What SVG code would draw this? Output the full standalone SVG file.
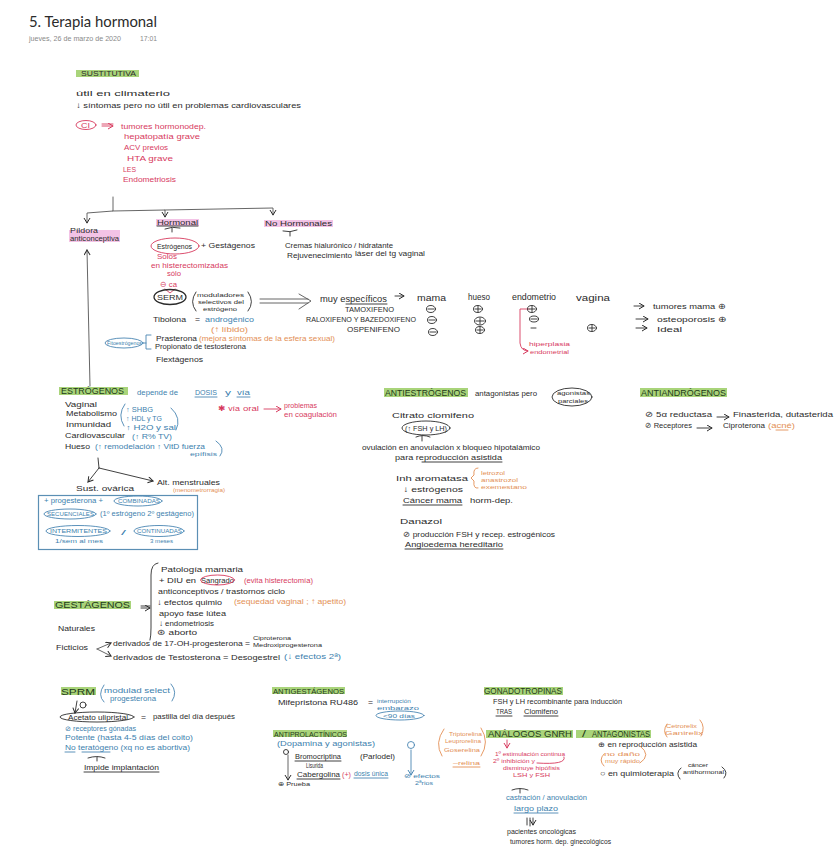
<svg xmlns="http://www.w3.org/2000/svg" width="837" height="848" viewBox="0 0 837 848">
<style>
text{font-family:"Liberation Sans",Arial,sans-serif;font-size:8px;fill:#2b2b2b}
.r{fill:#d73a5e}.b{fill:#3d7fae}.o{fill:#e38f55}.h{font-size:9px;fill:#1f3a1a}.s{font-size:6px}.t{font-size:7px}
.gh{fill:#a9d47a}.ph{fill:#f3c3e6}
.lk,.lr,.lb,.lo,.lg{fill:none;stroke-linecap:round;stroke-linejoin:round;stroke-width:.9}
.lk{stroke:#2b2b2b}.lr{stroke:#d73a5e}.lb{stroke:#4a86b2}.lo{stroke:#e38f55}.lg{stroke:#555}
</style>
<defs>
<marker id="ak" markerWidth="8" markerHeight="8" refX="6" refY="3.5" orient="auto" markerUnits="userSpaceOnUse"><path d="M1 .5L6 3.5L1 6.5" fill="none" stroke="#2b2b2b" stroke-width="1"/></marker>
<marker id="ar" markerWidth="8" markerHeight="8" refX="6" refY="3.5" orient="auto" markerUnits="userSpaceOnUse"><path d="M1 .5L6 3.5L1 6.5" fill="none" stroke="#d73a5e" stroke-width="1"/></marker>
<marker id="ab" markerWidth="8" markerHeight="8" refX="6" refY="3.5" orient="auto" markerUnits="userSpaceOnUse"><path d="M1 .5L6 3.5L1 6.5" fill="none" stroke="#4a86b2" stroke-width="1"/></marker>
</defs>
<rect width="837" height="848" fill="#fff"/>

<g id="title">
<text x="29" y="27" textLength="128" lengthAdjust="spacingAndGlyphs" style="font-size:16px;font-family:Lato,'Open Sans',sans-serif">5. Terapia hormonal</text>
<text x="29" y="41" textLength="92" lengthAdjust="spacingAndGlyphs" style="font-size:7.5px;fill:#8a8a8a">jueves, 26 de marzo de 2020</text>
<text x="140" y="41" textLength="17" lengthAdjust="spacingAndGlyphs" style="font-size:7.5px;fill:#8a8a8a">17:01</text>
</g>

<g id="connectors">
<path class="lg" marker-end="url(#ak)" d="M113 197V211L87 213V223"/>
<path class="lg" marker-end="url(#ak)" d="M113 211L165 210V217"/>
<path class="lg" marker-end="url(#ak)" d="M165 210L273 208V215"/>
<path class="lg" marker-end="url(#ak)" d="M90 386L87 250"/>
<path class="lr" marker-end="url(#ar)" d="M102 124H113M102 126H113"/>
<path class="lg" d="M260 299H308M260 303H308M299 294L311 301L299 309"/>
<path class="lk" marker-end="url(#ak)" d="M395 296H404"/>
<path class="lk" marker-end="url(#ak)" d="M634 306H644"/>
<path class="lk" marker-end="url(#ak)" d="M636 319H648"/>
<path class="lk" marker-end="url(#ak)" d="M636 328H647"/>
<path class="lr" marker-end="url(#ar)" d="M529 309H520V343Q521 351 528 351"/>
<path class="lk" d="M98 458L99 468"/>
<path class="lk" marker-end="url(#ak)" d="M99 468L88 482"/>
<path class="lk" marker-end="url(#ak)" d="M99 468L153 481"/>
<path class="lk" marker-end="url(#ak)" d="M141 606H150M141 608H150"/>
<path class="lk" d="M158 563Q151 564 151 575V628Q151 636 150 640"/>
<path class="lg" marker-end="url(#ak)" d="M97 649L111 643"/>
<path class="lg" marker-end="url(#ak)" d="M97 649L111 656"/>
<path class="lk" marker-end="url(#ak)" d="M77 701L75 713"/>
<path class="lg" marker-end="url(#ak)" d="M288 755V780"/>
<path class="lb" marker-end="url(#ab)" d="M411 750V775"/>
<path class="lr" marker-end="url(#ar)" d="M507 740V748"/>
<path class="lk" marker-end="url(#ak)" d="M530 818V826M527 818V825M533 818V825"/>
<path class="lr" marker-end="url(#ar)" d="M264 409H281"/>
<path class="lk" marker-end="url(#ak)" d="M717 417H729"/>
<path class="lk" marker-end="url(#ak)" d="M697 428H712"/>
<path class="lk" d="M165 229Q172 226 180 228M172 228V232M283 231Q290 233 297 230M290 232V236M416 437Q423 434 430 437M422 436V441M88 758Q97 755 105 758M97 757V761M512 790Q520 787 528 790M520 789V793"/>
</g>

<g id="sustitutiva">
<rect class="gh" x="76" y="70" width="63" height="7"/>
<text x="81" y="76" textLength="55" lengthAdjust="spacingAndGlyphs">SUSTITUTIVA</text>
<text x="76" y="96" textLength="94" lengthAdjust="spacingAndGlyphs">útil en climaterio</text>
<text x="76" y="108" textLength="225" lengthAdjust="spacingAndGlyphs">↓ síntomas pero no útil en problemas cardiovasculares</text>
<ellipse class="lr" cx="86" cy="125" rx="10" ry="4.5"/>
<text class="r" x="81" y="128" textLength="9" lengthAdjust="spacingAndGlyphs">CI</text>
<text class="r" x="121" y="129" textLength="85" lengthAdjust="spacingAndGlyphs">tumores hormonodep.</text>
<text class="r" x="124" y="139" textLength="76" lengthAdjust="spacingAndGlyphs">hepatopatía grave</text>
<text class="r" x="124" y="150" textLength="44" lengthAdjust="spacingAndGlyphs">ACV previos</text>
<text class="r" x="127" y="161" textLength="46" lengthAdjust="spacingAndGlyphs">HTA grave</text>
<text class="r" x="123" y="172" textLength="13" lengthAdjust="spacingAndGlyphs">LES</text>
<text class="r" x="123" y="182" textLength="53" lengthAdjust="spacingAndGlyphs">Endometriosis</text>
</g>

<g id="pildora">
<rect class="ph" x="69" y="230" width="51" height="12"/>
<text class="t" x="70" y="233" textLength="28" lengthAdjust="spacingAndGlyphs">Píldora</text>
<text class="t" x="70" y="241" textLength="49" lengthAdjust="spacingAndGlyphs">anticonceptiva</text>
</g>

<g id="hormonal">
<rect class="ph" x="156" y="219" width="43" height="7"/>
<text x="157" y="225" textLength="41" lengthAdjust="spacingAndGlyphs">Hormonal</text>
<path class="lk" d="M157 226H198"/>
<ellipse class="lr" cx="175" cy="246" rx="24" ry="8"/>
<text x="157" y="249" textLength="35" lengthAdjust="spacingAndGlyphs">Estrógenos</text>
<text x="201" y="248" textLength="54" lengthAdjust="spacingAndGlyphs">+ Gestágenos</text>
<text class="r" x="157" y="259" textLength="20" lengthAdjust="spacingAndGlyphs">Solos</text>
<text class="r" x="151" y="268" textLength="77" lengthAdjust="spacingAndGlyphs">en histerectomizadas</text>
<text class="r" x="167" y="276" textLength="14" lengthAdjust="spacingAndGlyphs">sólo</text>
<text class="r" x="160" y="287" textLength="17" lengthAdjust="spacingAndGlyphs">⊖ ca</text>
<path class="lr" d="M165 289L170 293L175 289"/>
<ellipse class="lk" style="stroke-width:1.3" cx="170" cy="297" rx="16" ry="7.5"/>
<text x="157" y="300" textLength="26" lengthAdjust="spacingAndGlyphs">SERM</text>
<path class="lk" d="M196 292Q189 302 196 311M248 292Q255 302 248 311"/>
<text class="s" x="197" y="297" textLength="47" lengthAdjust="spacingAndGlyphs">moduladores</text>
<text class="s" x="198" y="304" textLength="46" lengthAdjust="spacingAndGlyphs">selectivos del</text>
<text class="s" x="203" y="311" textLength="34" lengthAdjust="spacingAndGlyphs">estrógeno</text>
<text x="153" y="322" textLength="33" lengthAdjust="spacingAndGlyphs">Tibolona</text>
<text x="195" y="322" textLength="5" lengthAdjust="spacingAndGlyphs">=</text>
<text class="b" x="205" y="322" textLength="49" lengthAdjust="spacingAndGlyphs">androgénico</text>
<text class="o" x="211" y="332" textLength="37" lengthAdjust="spacingAndGlyphs">(↑ líbido)</text>
<ellipse class="lb" cx="124" cy="343" rx="19" ry="5"/>
<text class="b s" x="107" y="345" textLength="35" lengthAdjust="spacingAndGlyphs">Fitoestrógenos</text>
<path class="lb" d="M151 335H146V349H151M143 343H146"/>
<text class="t" x="156" y="341" textLength="41" lengthAdjust="spacingAndGlyphs">Prasterona</text>
<text class="o t" x="199" y="341" textLength="136" lengthAdjust="spacingAndGlyphs">(mejora síntomas de la esfera sexual)</text>
<text class="t" x="155" y="349" textLength="91" lengthAdjust="spacingAndGlyphs">Propionato de testosterona</text>
<text x="156" y="362" textLength="47" lengthAdjust="spacingAndGlyphs">Flextágenos</text>
</g>

<g id="no-hormonales">
<rect class="ph" x="264" y="220" width="69" height="7"/>
<text x="265" y="226" textLength="67" lengthAdjust="spacingAndGlyphs">No Hormonales</text>
<text x="285" y="248" textLength="108" lengthAdjust="spacingAndGlyphs">Cremas hialurónico / hidratante</text>
<text x="287" y="258" textLength="65" lengthAdjust="spacingAndGlyphs">Rejuvenecimiento</text>
<text x="355" y="256" textLength="70" lengthAdjust="spacingAndGlyphs">láser del tg vaginal</text>
</g>

<g id="serm-tabla">
<text x="320" y="302" textLength="67" lengthAdjust="spacingAndGlyphs" style="font-size:9px">muy específicos</text>
<path class="lk" d="M346 304H387"/>
<text x="417" y="301" textLength="29" lengthAdjust="spacingAndGlyphs" style="font-size:9px">mama</text>
<text x="468" y="300" textLength="22" lengthAdjust="spacingAndGlyphs" style="font-size:9px">hueso</text>
<text x="512" y="300" textLength="44" lengthAdjust="spacingAndGlyphs" style="font-size:9px">endometrio</text>
<text x="576" y="301" textLength="34" lengthAdjust="spacingAndGlyphs" style="font-size:9px">vagina</text>
<text class="t" x="345" y="312" textLength="49" lengthAdjust="spacingAndGlyphs">TAMOXIFENO</text>
<text class="t" x="306" y="322" textLength="110" lengthAdjust="spacingAndGlyphs">RALOXIFENO Y BAZEDOXIFENO</text>
<text class="t" x="347" y="332" textLength="53" lengthAdjust="spacingAndGlyphs">OSPENIFENO</text>
<g class="lk">
<ellipse cx="431" cy="309" rx="4.5" ry="3.5"/><path d="M428 309H434"/>
<ellipse cx="432" cy="320" rx="4.5" ry="3.5"/><path d="M429 320H435"/>
<ellipse cx="433" cy="332" rx="4.5" ry="3.5"/><path d="M430 332H436"/>
<ellipse cx="478" cy="309" rx="4.5" ry="3.5"/><path d="M475 309H481M478 306V312"/>
<ellipse cx="480" cy="321" rx="5.5" ry="4"/><path d="M476 321H484M480 318V324"/>
<ellipse cx="480" cy="330" rx="4.5" ry="3.5"/><path d="M477 330H483M480 327V333"/>
<ellipse cx="532" cy="309" rx="4.5" ry="3.5"/><path d="M529 309H535M532 306V312"/>
<ellipse cx="534" cy="319" rx="4.5" ry="3"/><path d="M531 319H537"/>
<path d="M531 328H536"/>
<ellipse cx="592" cy="328" rx="4.5" ry="3.5"/><path d="M589 328H595M592 325V331"/>
</g>
<text class="r s" x="529" y="346" textLength="41" lengthAdjust="spacingAndGlyphs">hiperplasia</text>
<text class="r s" x="530" y="354" textLength="39" lengthAdjust="spacingAndGlyphs">endometrial</text>
<text x="653" y="309" textLength="73" lengthAdjust="spacingAndGlyphs">tumores mama ⊕</text>
<text x="657" y="322" textLength="70" lengthAdjust="spacingAndGlyphs">osteoporosis ⊕</text>
<text x="657" y="332" textLength="25" lengthAdjust="spacingAndGlyphs">Ideal</text>
</g>

<g id="estrogenos">
<rect class="gh" x="59" y="387" width="69" height="8"/>
<text class="h" x="61" y="394" textLength="63" lengthAdjust="spacingAndGlyphs">ESTRÓGENOS</text>
<text class="b" x="137" y="395" textLength="41" lengthAdjust="spacingAndGlyphs">depende de</text>
<text class="b" x="195" y="395" textLength="22" lengthAdjust="spacingAndGlyphs">DOSIS</text>
<text class="b" x="225" y="395" textLength="6" lengthAdjust="spacingAndGlyphs">y</text>
<text class="b" x="237" y="395" textLength="13" lengthAdjust="spacingAndGlyphs">vía</text>
<path class="lb" d="M195 397H217M237 397H250"/>
<text class="r" x="218" y="411" textLength="22" lengthAdjust="spacingAndGlyphs">✱ vía</text>
<text class="r" x="243" y="411" textLength="16" lengthAdjust="spacingAndGlyphs">oral</text>
<text class="r" x="284" y="408" textLength="33" lengthAdjust="spacingAndGlyphs">problemas</text>
<text class="r" x="284" y="417" textLength="53" lengthAdjust="spacingAndGlyphs">en coagulación</text>
<text x="65" y="407" textLength="32" lengthAdjust="spacingAndGlyphs">Vaginal</text>
<text x="66" y="416" textLength="51" lengthAdjust="spacingAndGlyphs">Metabolismo</text>
<text x="66" y="427" textLength="45" lengthAdjust="spacingAndGlyphs">Inmunidad</text>
<text x="65" y="438" textLength="60" lengthAdjust="spacingAndGlyphs">Cardiovascular</text>
<text x="65" y="449" textLength="25" lengthAdjust="spacingAndGlyphs">Hueso</text>
<path class="lb" d="M125 404Q117 415 124 426M171 408Q182 418 176 430"/>
<text class="b t" x="126" y="412" textLength="27" lengthAdjust="spacingAndGlyphs">↑ SHBG</text>
<text class="b t" x="126" y="421" textLength="36" lengthAdjust="spacingAndGlyphs">↑ HDL y TG</text>
<text class="b t" x="126" y="430" textLength="50" lengthAdjust="spacingAndGlyphs">↑ H2O y sal</text>
<text class="b t" x="132" y="439" textLength="40" lengthAdjust="spacingAndGlyphs">(↑ R% TV)</text>
<text class="b t" x="95" y="449" textLength="110" lengthAdjust="spacingAndGlyphs">(↑ remodelación ↑ VitD fuerza</text>
<text class="b s" x="190" y="456" textLength="27" lengthAdjust="spacingAndGlyphs">epífisis</text>
<path class="lb" d="M216 441Q226 448 220 456"/>
<text x="76" y="491" textLength="58" lengthAdjust="spacingAndGlyphs">Sust. ovárica</text>
<text x="157" y="485" textLength="63" lengthAdjust="spacingAndGlyphs">Alt. menstruales</text>
<text class="o s" x="173" y="492" textLength="52" lengthAdjust="spacingAndGlyphs">(menometrorragia)</text>
<rect x="38.500" y="495.500" width="159" height="54" fill="none" stroke="#5b8fb4" stroke-width="1.200"/>
<text class="b t" x="44" y="503" textLength="59" lengthAdjust="spacingAndGlyphs">+ progesterona +</text>
<ellipse class="lb" cx="138" cy="501" rx="24" ry="5"/>
<text class="b s" x="118" y="503" textLength="42" lengthAdjust="spacingAndGlyphs">COMBINADAS</text>
<ellipse class="lb" cx="70" cy="514" rx="26" ry="5"/>
<text class="b s" x="47" y="516" textLength="47" lengthAdjust="spacingAndGlyphs">SECUENCIALES</text>
<text class="b t" x="100" y="516" textLength="94" lengthAdjust="spacingAndGlyphs">(1º estrógeno 2º gestágeno)</text>
<ellipse class="lb" cx="78" cy="531" rx="32" ry="5.500"/>
<text class="b s" x="50" y="533" textLength="57" lengthAdjust="spacingAndGlyphs">INTERMITENTES</text>
<text class="b" x="121" y="535" textLength="5" lengthAdjust="spacingAndGlyphs">/</text>
<ellipse class="lb" cx="159" cy="531" rx="25" ry="5.500"/>
<text class="b s" x="137" y="533" textLength="45" lengthAdjust="spacingAndGlyphs">CONTINUADAS</text>
<text class="b s" x="55" y="543" textLength="48" lengthAdjust="spacingAndGlyphs">1/sem al mes</text>
<text class="b s" x="150" y="543" textLength="23" lengthAdjust="spacingAndGlyphs">3 meses</text>
</g>

<g id="antiestrogenos">
<rect class="gh" x="384" y="388" width="84" height="9"/>
<text class="h" x="385" y="396" textLength="81" lengthAdjust="spacingAndGlyphs">ANTIESTRÓGENOS</text>
<text x="475" y="396" textLength="62" lengthAdjust="spacingAndGlyphs">antagonistas pero</text>
<ellipse class="lk" cx="572" cy="397" rx="20" ry="9"/>
<text class="s" x="557" y="395" textLength="33" lengthAdjust="spacingAndGlyphs">agonistas</text>
<text class="s" x="558" y="403" textLength="30" lengthAdjust="spacingAndGlyphs">parciales</text>
<text x="392" y="418" textLength="82" lengthAdjust="spacingAndGlyphs">Citrato clomifeno</text>
<ellipse class="lk" cx="426" cy="428" rx="24" ry="7"/>
<text class="t" x="405" y="431" textLength="42" lengthAdjust="spacingAndGlyphs">(↑ FSH y LH)</text>
<text x="362" y="450" textLength="178" lengthAdjust="spacingAndGlyphs">ovulación en anovulación x bloqueo hipotalámico</text>
<text x="395" y="460" textLength="107" lengthAdjust="spacingAndGlyphs">para reproducción asistida</text>
<path class="lk" d="M422 462H502"/>
<text x="396" y="481" textLength="72" lengthAdjust="spacingAndGlyphs">Inh aromatasa</text>
<path class="lo" d="M478 468Q473 468 474 475L471 478L474 481Q473 489 478 488"/>
<text class="o s" x="481" y="475" textLength="24" lengthAdjust="spacingAndGlyphs">letrozol</text>
<text class="o s" x="481" y="482" textLength="37" lengthAdjust="spacingAndGlyphs">anastrozol</text>
<text class="o s" x="481" y="489" textLength="46" lengthAdjust="spacingAndGlyphs">exemestano</text>
<text x="403" y="492" textLength="60" lengthAdjust="spacingAndGlyphs">↓ estrógenos</text>
<text x="403" y="503" textLength="59" lengthAdjust="spacingAndGlyphs">Cáncer mama</text>
<path class="lk" d="M403 505H462"/>
<text x="470" y="503" textLength="43" lengthAdjust="spacingAndGlyphs">horm-dep.</text>
<text x="400" y="524" textLength="42" lengthAdjust="spacingAndGlyphs">Danazol</text>
<text x="403" y="537" textLength="152" lengthAdjust="spacingAndGlyphs">⊘ producción FSH y recep. estrogénicos</text>
<text x="405" y="547" textLength="98" lengthAdjust="spacingAndGlyphs">Angioedema hereditario</text>
<path class="lk" d="M405 549H503"/>
</g>

<g id="antiandrogenos">
<rect class="gh" x="640" y="388" width="87" height="9"/>
<text class="h" x="641" y="396" textLength="85" lengthAdjust="spacingAndGlyphs">ANTIANDRÓGENOS</text>
<text x="645" y="417" textLength="67" lengthAdjust="spacingAndGlyphs">⊘ 5α reductasa</text>
<text x="733" y="417" textLength="100" lengthAdjust="spacingAndGlyphs">Finasterida, dutasterida</text>
<text x="645" y="428" textLength="47" lengthAdjust="spacingAndGlyphs">⊘ Receptores</text>
<text x="723" y="428" textLength="42" lengthAdjust="spacingAndGlyphs">Ciproterona</text>
<text class="o" x="768" y="428" textLength="27" lengthAdjust="spacingAndGlyphs">(acné)</text>
<path class="lo" d="M776 430H788"/>
</g>

<g id="gestagenos">
<rect class="gh" x="54" y="601" width="77" height="8"/>
<text class="h" x="55" y="608" textLength="75" lengthAdjust="spacingAndGlyphs">GESTÁGENOS</text>
<text x="161" y="572" textLength="82" lengthAdjust="spacingAndGlyphs">Patología mamaria</text>
<text x="159" y="583" textLength="37" lengthAdjust="spacingAndGlyphs">+ DIU en</text>
<text x="201" y="583" textLength="33" lengthAdjust="spacingAndGlyphs">Sangrado</text>
<ellipse class="lr" cx="217.500" cy="580" rx="17" ry="5"/>
<text class="r" x="244" y="583" textLength="69" lengthAdjust="spacingAndGlyphs">(evita histerectomía)</text>
<text x="158" y="594" textLength="127" lengthAdjust="spacingAndGlyphs">anticonceptivos / trastornos ciclo</text>
<text x="157" y="605" textLength="65" lengthAdjust="spacingAndGlyphs">↓ efectos quimio</text>
<text class="o" x="234" y="604" textLength="112" lengthAdjust="spacingAndGlyphs">(sequedad vaginal ; ↑ apetito)</text>
<text x="159" y="616" textLength="67" lengthAdjust="spacingAndGlyphs">apoyo fase lútea</text>
<text x="159" y="626" textLength="55" lengthAdjust="spacingAndGlyphs">↓ endometriosis</text>
<text x="157" y="635" textLength="40" lengthAdjust="spacingAndGlyphs">⊛ aborto</text>
<text x="58" y="631" textLength="37" lengthAdjust="spacingAndGlyphs">Naturales</text>
<text x="56" y="650" textLength="32" lengthAdjust="spacingAndGlyphs">Ficticios</text>
<text x="113" y="646" textLength="137" lengthAdjust="spacingAndGlyphs">derivados de 17-OH-progesterona =</text>
<text class="s" x="253" y="640" textLength="38" lengthAdjust="spacingAndGlyphs">Ciproterona</text>
<text class="s" x="253" y="647" textLength="69" lengthAdjust="spacingAndGlyphs">Medroxiprogesterona</text>
<text x="113" y="660" textLength="167" lengthAdjust="spacingAndGlyphs">derivados de Testosterona = Desogestrel</text>
<text class="b" x="284" y="659" textLength="57" lengthAdjust="spacingAndGlyphs">(↓ efectos 2ª)</text>
</g>

<g id="sprm">
<rect class="gh" x="61" y="687" width="35" height="8"/>
<text class="h" x="61" y="695" textLength="34" lengthAdjust="spacingAndGlyphs">SPRM</text>
<path class="lb" d="M104 685Q97 695 104 702M171 684Q178 692 172 701"/>
<text class="b t" x="104" y="693" textLength="66" lengthAdjust="spacingAndGlyphs">modulad select</text>
<text class="b t" x="110" y="701" textLength="46" lengthAdjust="spacingAndGlyphs">progesterona</text>
<circle class="lk" cx="83" cy="705" r="3"/>
<ellipse class="lk" cx="97" cy="717" rx="37" ry="5"/>
<text x="68" y="720" textLength="60" lengthAdjust="spacingAndGlyphs">Acetato ulipristal</text>
<text x="141" y="720" textLength="5" lengthAdjust="spacingAndGlyphs">=</text>
<text x="153" y="719" textLength="82" lengthAdjust="spacingAndGlyphs">pastilla del día después</text>
<text class="b t" x="65" y="731" textLength="71" lengthAdjust="spacingAndGlyphs">⊘ receptores gónadas</text>
<text class="b t" x="65" y="740" textLength="128" lengthAdjust="spacingAndGlyphs">Potente (hasta 4-5 días del coito)</text>
<text class="b t" x="65" y="750" textLength="125" lengthAdjust="spacingAndGlyphs">No teratógeno (xq no es abortiva)</text>
<path class="lb" d="M65 752H75M82 752H110"/>
<text x="84" y="770" textLength="75" lengthAdjust="spacingAndGlyphs">Impide implantación</text>
<path class="lk" d="M84 772H159"/>
</g>

<g id="antigestagenos">
<rect class="gh" x="272" y="687" width="73" height="7"/>
<text class="h" style="font-size:8px" x="273" y="694" textLength="71" lengthAdjust="spacingAndGlyphs">ANTIGESTÁGENOS</text>
<text x="278" y="705" textLength="80" lengthAdjust="spacingAndGlyphs">Mifepristona RU486</text>
<text x="368" y="705" textLength="5" lengthAdjust="spacingAndGlyphs">=</text>
<text class="b s" x="377" y="703" textLength="34" lengthAdjust="spacingAndGlyphs">interrupción</text>
<text class="b s" x="377" y="710" textLength="42" lengthAdjust="spacingAndGlyphs">embarazo</text>
<ellipse class="lb" cx="400" cy="715.500" rx="24" ry="4.500"/>
<text class="b s" x="383" y="718" textLength="32" lengthAdjust="spacingAndGlyphs">&lt;90 días</text>
</g>

<g id="antiprolactinicos">
<rect class="gh" x="273" y="730" width="74" height="7"/>
<text class="h" style="font-size:8px" x="274" y="737" textLength="73" lengthAdjust="spacingAndGlyphs">ANTIPROLACTÍNICOS</text>
<text class="b" x="277" y="746" textLength="98" lengthAdjust="spacingAndGlyphs">(Dopamina y agonistas)</text>
<circle class="lk" cx="286" cy="752" r="2.500"/>
<text class="t" x="295" y="759" textLength="46" lengthAdjust="spacingAndGlyphs">Bromocriptina</text>
<path class="lk" d="M295 761H341"/>
<text class="t" x="360" y="759" textLength="35" lengthAdjust="spacingAndGlyphs">(Parlodel)</text>
<text class="t" x="306" y="768" textLength="17" lengthAdjust="spacingAndGlyphs">Lisurida</text>
<text class="t" x="297" y="777" textLength="43" lengthAdjust="spacingAndGlyphs">Cabergolina</text>
<path class="lk" d="M297 779H340"/>
<text class="r t" x="342" y="777" textLength="9" lengthAdjust="spacingAndGlyphs">(+)</text>
<text class="b t" x="354" y="776" textLength="34" lengthAdjust="spacingAndGlyphs">dosis única</text>
<path class="lb" d="M354 778H388"/>
<text class="s" x="278" y="786" textLength="32" lengthAdjust="spacingAndGlyphs">⊕ Prueba</text>
<circle class="lb" cx="411" cy="745" r="3.500"/>
<text class="b s" x="404" y="778" textLength="36" lengthAdjust="spacingAndGlyphs">⊘ efectos</text>
<text class="b s" x="415" y="785" textLength="18" lengthAdjust="spacingAndGlyphs">2ªrios</text>
</g>

<g id="gonadotropinas">
<rect class="gh" x="484" y="687" width="79" height="8"/>
<text class="h" style="font-size:8.500px" x="484" y="694" textLength="78" lengthAdjust="spacingAndGlyphs">GONADOTROPINAS</text>
<text x="493" y="704" textLength="129" lengthAdjust="spacingAndGlyphs">FSH y LH recombinante para inducción</text>
<text x="496" y="714" textLength="16" lengthAdjust="spacingAndGlyphs">TRAS</text>
<text x="524" y="714" textLength="34" lengthAdjust="spacingAndGlyphs">Clomifeno</text>
<path class="lk" d="M496 716H512M524 716H558"/>
</g>

<g id="analogos">
<rect class="gh" x="486" y="730" width="87" height="8"/>
<rect class="gh" x="576" y="730" width="75" height="8"/>
<text class="h" style="font-size:8.500px" x="488" y="737" textLength="84" lengthAdjust="spacingAndGlyphs">ANÁLOGOS GNRH</text>
<text class="h" style="font-size:8.500px" x="582" y="737" textLength="4" lengthAdjust="spacingAndGlyphs">/</text>
<text class="h" style="font-size:8.500px" x="592" y="737" textLength="58" lengthAdjust="spacingAndGlyphs">ANTAGONISTAS</text>
<path class="lo" d="M444 729Q434 743 442 756M481 728Q490 742 481 756M667 724Q662 731 667 737M700 720Q706 727 701 736"/>
<text class="o s" x="449" y="736" textLength="33" lengthAdjust="spacingAndGlyphs">Triptorelina</text>
<text class="o s" x="445" y="743" textLength="36" lengthAdjust="spacingAndGlyphs">Leuprorelina</text>
<text class="o s" x="444" y="752" textLength="36" lengthAdjust="spacingAndGlyphs">Goserelina</text>
<text class="o s" x="453" y="765" textLength="27" lengthAdjust="spacingAndGlyphs">–relina</text>
<path class="lo" d="M453 767H480"/>
<text class="o s" x="666" y="728" textLength="31" lengthAdjust="spacingAndGlyphs">Cetrorelix</text>
<text class="o s" x="665" y="735" textLength="38" lengthAdjust="spacingAndGlyphs">Ganirelix</text>
<text class="r s" x="495" y="756" textLength="70" lengthAdjust="spacingAndGlyphs">1º estimulación continua</text>
<text class="r s" x="493" y="763" textLength="42" lengthAdjust="spacingAndGlyphs">2º inhibición y</text>
<text class="r s" x="503" y="770" textLength="57" lengthAdjust="spacingAndGlyphs">disminuye hipófisis</text>
<text class="r s" x="513" y="777" textLength="37" lengthAdjust="spacingAndGlyphs">LSH y FSH</text>
<path class="lr" d="M537 763Q567 765 564 757"/>
<text class="t" x="598" y="747" textLength="99" lengthAdjust="spacingAndGlyphs">⊕ en reproducción asistida</text>
<path class="lo" d="M604 754Q598 760 604 766M640 746Q652 755 640 763"/>
<text class="o s" x="604" y="756" textLength="36" lengthAdjust="spacingAndGlyphs">no daño</text>
<text class="o s" x="605" y="763" textLength="35" lengthAdjust="spacingAndGlyphs">muy rápido</text>
<text x="600" y="776" textLength="74" lengthAdjust="spacingAndGlyphs">○ en quimioterapia</text>
<path class="lk" d="M681 768Q675 773 680 779M722 767Q729 772 724 778"/>
<text class="s" x="688" y="767" textLength="20" lengthAdjust="spacingAndGlyphs">cáncer</text>
<text class="s" x="683" y="774" textLength="41" lengthAdjust="spacingAndGlyphs">antihormonal</text>
<text class="b" x="506" y="800" textLength="81" lengthAdjust="spacingAndGlyphs">castración / anovulación</text>
<text class="b" x="514" y="811" textLength="44" lengthAdjust="spacingAndGlyphs">largo plazo</text>
<path class="lb" d="M514 813H558"/>
<text x="507" y="834" textLength="69" lengthAdjust="spacingAndGlyphs">pacientes oncológicas</text>
<text x="510" y="844" textLength="101" lengthAdjust="spacingAndGlyphs">tumores horm. dep. ginecológicos</text>
</g>
</svg>
